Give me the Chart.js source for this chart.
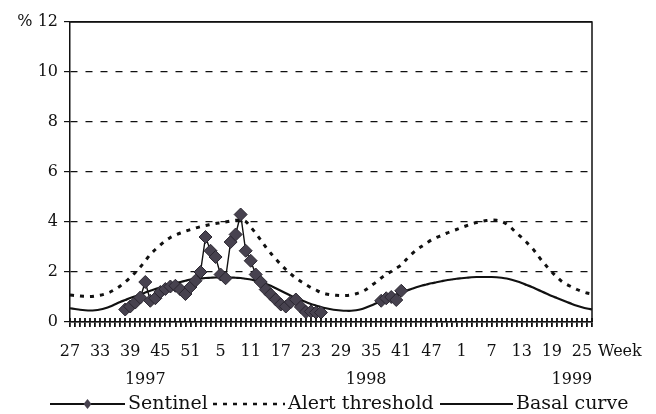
<!DOCTYPE html>
<html lang="en">
<head>
<meta charset="utf-8">
<title>Sentinel vs alert threshold</title>
<style>
  html, body { margin: 0; padding: 0; background: #fff; }
</style>
</head>
<body>
<canvas id="chart" width="656" height="414"></canvas>
<script src="https://cdn.jsdelivr.net/npm/chart.js@4/dist/chart.umd.min.js"></script>
<script>
// week numbers, week 27 of 1997 to week 27 of 1999
var WEEKS = [27,28,29,30,31,32,33,34,35,36,37,38,39,40,41,42,43,44,45,46,47,48,49,50,51,52,
  1,2,3,4,5,6,7,8,9,10,11,12,13,14,15,16,17,18,19,20,21,22,23,24,25,26,27,28,29,30,
  31,32,33,34,35,36,37,38,39,40,41,42,43,44,45,46,47,48,49,50,51,52,
  1,2,3,4,5,6,7,8,9,10,11,12,13,14,15,16,17,18,19,20,21,22,23,24,25,26,27];
var YEARS = ['1997', '1998', '1999'];
var Y_TICKS = [0, 2, 4, 6, 8, 10, 12];

var SENTINEL = [null,null,null,null,null,null,null,null,null,null,null,
  0.50,0.62,0.78,0.98,1.60,0.85,0.95,1.20,1.32,1.42,
  1.45,1.30,1.12,1.40,1.65,2.00,3.40,2.85,2.60,1.90,
  1.75,3.20,3.50,4.30,2.85,2.45,1.90,1.60,1.30,1.10,
  0.90,0.70,0.62,0.80,0.90,0.60,0.40,0.42,0.38,0.38,
  null,null,null,null,null,null,null,null,null,null,null,
  0.85,0.95,1.00,0.88,1.25,
  null,null,null,null,null,null,null,null,null,null,null,null,null,null,null,null,null,null,null,
  null,null,null,null,null,null,null,null,null,null,null,null,null,null,null,null,null,null,null];

var ALERT = [1.08,1.06,1.04,1.03,1.02,1.04,1.07,1.12,1.20,1.31,1.44,1.60,1.78,1.98,2.20,2.45,2.70,2.90,3.08,3.25,
  3.38,3.48,3.56,3.63,3.70,3.76,3.81,3.86,3.90,3.94,3.97,4.00,4.04,4.07,4.08,4.02,3.80,3.55,3.28,3.00,
  2.75,2.52,2.30,2.10,1.92,1.76,1.62,1.50,1.38,1.28,1.18,1.12,1.09,1.07,1.06,1.06,1.08,1.13,1.20,1.30,
  1.45,1.60,1.76,1.90,2.02,2.15,2.28,2.50,2.70,2.88,3.02,3.15,3.28,3.38,3.46,3.55,3.63,3.70,3.78,3.85,
  3.92,3.98,4.03,4.06,4.08,4.07,4.02,3.92,3.75,3.55,3.38,3.18,2.98,2.72,2.45,2.22,2.00,1.80,1.62,1.50,
  1.40,1.30,1.22,1.16,1.12];

var BASAL = [0.55,0.52,0.49,0.47,0.46,0.47,0.50,0.55,0.62,0.71,0.80,0.88,0.96,1.03,1.10,1.18,1.25,1.32,1.38,1.44,
  1.50,1.55,1.60,1.65,1.70,1.72,1.74,1.76,1.77,1.78,1.78,1.78,1.78,1.77,1.76,1.73,1.70,1.65,1.60,1.53,
  1.45,1.35,1.25,1.15,1.05,0.96,0.88,0.80,0.72,0.66,0.60,0.55,0.51,0.48,0.46,0.45,0.45,0.47,0.51,0.58,
  0.66,0.75,0.84,0.93,1.02,1.10,1.18,1.25,1.32,1.39,1.45,1.50,1.55,1.59,1.63,1.67,1.70,1.73,1.75,1.77,
  1.79,1.80,1.80,1.80,1.80,1.79,1.77,1.74,1.69,1.63,1.56,1.48,1.40,1.31,1.22,1.13,1.04,0.96,0.88,0.80,
  0.72,0.65,0.59,0.54,0.50];

var INK = '#111111';
var FONT = '"DejaVu Serif", "Liberation Serif", serif';

// frame, upper half of week ticks, year labels and the legend row
var extras = {
  id: 'extras',
  afterDraw: function(chart) {
    var ctx = chart.ctx, a = chart.chartArea, xs = chart.scales.x;
    ctx.save();
    ctx.setLineDash([]);
    ctx.strokeStyle = INK;
    ctx.lineWidth = 1.5;
    ctx.beginPath();
    ctx.moveTo(a.left, a.top); ctx.lineTo(a.right, a.top); ctx.lineTo(a.right, a.bottom);
    ctx.stroke();

    ctx.lineWidth = 1.8;
    ctx.beginPath();
    xs.ticks.forEach(function(t, i) {
      var px = Math.round(xs.getPixelForTick(i));
      ctx.moveTo(px, a.bottom - 4);
      ctx.lineTo(px, a.bottom);
    });
    ctx.stroke();

    ctx.fillStyle = INK;
    ctx.font = '16px ' + FONT;
    ctx.textBaseline = 'middle';
    ctx.textAlign = 'left';
    ctx.fillText('Week', a.right + 6, a.bottom + 30);
    ctx.textAlign = 'center';
    var yearAt = [15, 59, 100];
    YEARS.forEach(function(y, k) {
      ctx.fillText(y, xs.getPixelForValue(yearAt[k]), a.bottom + 58);
    });

    // legend
    var ly = 404, lx = [50, 213, 440], llen = [75, 72, 73];
    ctx.font = '19px ' + FONT;
    ctx.textAlign = 'left';
    chart.data.datasets.forEach(function(ds, k) {
      ctx.strokeStyle = INK;
      ctx.lineWidth = k === 1 ? 2.6 : 2;
      ctx.setLineDash(ds.borderDash || []);
      ctx.beginPath();
      ctx.moveTo(lx[k], ly); ctx.lineTo(lx[k] + llen[k], ly);
      ctx.stroke();
      ctx.setLineDash([]);
      if (ds.pointStyle === 'rectRot') {
        var cx = lx[k] + llen[k] / 2;
        ctx.fillStyle = ds.pointBackgroundColor;
        ctx.beginPath();
        ctx.moveTo(cx, ly - 5); ctx.lineTo(cx + 4, ly); ctx.lineTo(cx, ly + 5); ctx.lineTo(cx - 4, ly);
        ctx.closePath(); ctx.fill();
        ctx.fillStyle = INK;
      }
      ctx.fillText(ds.label, lx[k] + llen[k] + 3, ly);
    });
    ctx.restore();
  }
};

var chart = new Chart(document.getElementById('chart').getContext('2d'), {
  type: 'line',
  data: {
    labels: WEEKS,
    datasets: [
      { label: 'Sentinel', data: SENTINEL, order: 0,
        borderColor: INK, borderWidth: 1.4, tension: 0,
        pointStyle: 'rectRot', pointRadius: 6.5,
        pointBackgroundColor: '#47424f', pointBorderColor: '#2a2630', pointBorderWidth: 1,
        spanGaps: false },
      { label: 'Alert threshold', data: ALERT, order: 1,
        borderColor: INK, borderWidth: 3, borderDash: [4, 6],
        pointRadius: 0, tension: 0.3 },
      { label: 'Basal curve', data: BASAL, order: 2,
        borderColor: INK, borderWidth: 2.2,
        pointRadius: 0, tension: 0.3 }
    ]
  },
  options: {
    responsive: false,
    animation: false,
    devicePixelRatio: 1,
    layout: { padding: { left: 10, right: 64, top: 22, bottom: 0 } },
    plugins: { legend: { display: false }, tooltip: { enabled: false } },
    scales: {
      x: {
        offset: false,
        afterFit: function(s) { s.height = 92; },
        grid: { display: true, drawOnChartArea: false, drawTicks: true, tickLength: 5,
                color: INK, tickColor: INK, tickWidth: 1.8, lineWidth: 1.8 },
        border: { display: true, color: INK, width: 1.5 },
        ticks: {
          autoSkip: false, maxRotation: 0, padding: 15, color: INK,
          font: { family: FONT, size: 16 },
          callback: function(v, i) { return i % 6 === 0 ? String(WEEKS[i]) : ''; }
        }
      },
      y: {
        min: 0, max: 12,
        afterFit: function(s) { s.width = 60; },
        afterBuildTicks: function(s) { s.ticks = Y_TICKS.map(function(v) { return { value: v }; }); },
        grid: { color: INK, lineWidth: 1.2, tickLength: 6, drawTicks: true },
        border: {
          display: true, color: INK, width: 1.5,
          dash: function(c) { return (c.tick && c.tick.value > 0 && c.tick.value < 12) ? [7, 8] : []; }
        },
        ticks: {
          padding: 6, color: INK,
          font: { family: FONT, size: 16 },
          callback: function(v) { return v === 12 ? '% 12' : String(v); }
        }
      }
    }
  },
  plugins: [extras]
});
</script>
</body>
</html>
